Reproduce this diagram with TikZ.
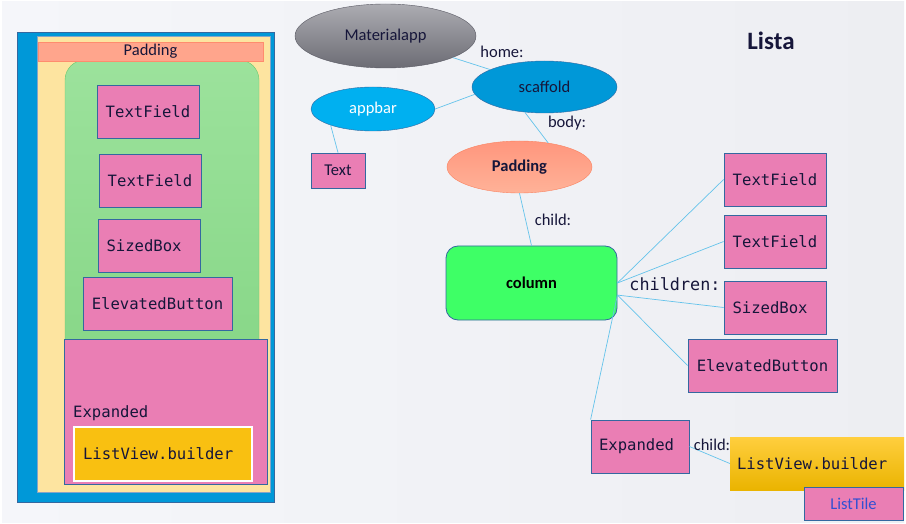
\documentclass[tikz,border=0pt]{standalone}
\usepackage{fontspec}
\setmainfont{Carlito}
\setmonofont{DejaVu Sans Mono}
\usetikzlibrary{shapes.geometric}
\definecolor{PageLeft}{RGB}{245,246,250}
\definecolor{PageRight}{RGB}{237,238,242}
\definecolor{BoxBlue}{RGB}{0,152,216}
\definecolor{PadYellow}{RGB}{253,228,160}
\definecolor{WidgetPink}{RGB}{234,126,180}
\definecolor{EdgeBlue}{RGB}{52,104,160}
\definecolor{LinkBlue}{RGB}{100,195,235}
\definecolor{InkNavy}{RGB}{22,22,58}
\definecolor{ListGold}{RGB}{249,192,17}
\definecolor{ColumnGreen}{RGB}{62,255,102}
\definecolor{PadSalmon}{RGB}{255,165,140}
\newcommand{\sansfs}{\fontsize{16.5}{18}\selectfont}
\newcommand{\monofs}{\fontsize{15.6}{18}\selectfont\ttfamily}

\begin{document}
\begin{tikzpicture}[x=1pt,y=-1pt,
  widget/.style={draw=EdgeBlue, line width=0.8pt, fill=WidgetPink, inner sep=0pt, font=\monofs, text=InkNavy},
  smallbox/.style={widget, minimum width=102, minimum height=53},
  bubble/.style={ellipse, inner sep=0pt, font=\sansfs, text=InkNavy},
  link/.style={draw=LinkBlue, line width=0.7pt},
  tag/.style={inner sep=0pt, font=\sansfs, text=InkNavy}]

  \useasboundingbox (0,0) rectangle (906,524);
  \fill[white] (0,0) rectangle (906,524);
  \shade[left color=PageLeft, right color=PageRight] (2,2) rectangle (904,522);

  % widget tree drawn as nested boxes
  \draw[fill=BoxBlue, draw=EdgeBlue, line width=0.8pt] (17,32) rectangle (274,502);
  \draw[fill=PadYellow, draw=EdgeBlue!60] (37,36) rectangle (270,492);
  \draw[top color={rgb,255:red,156;green,226;blue,156}, bottom color={rgb,255:red,134;green,214;blue,134},
        draw={rgb,255:red,110;green,200;blue,110}, rounded corners=20] (65,60) rectangle (259,380);
  \node[fill=PadSalmon, draw={rgb,255:red,255;green,140;blue,110}, minimum width=225, minimum height=19,
        inner sep=0pt, font=\sansfs, text=InkNavy] (l-pad) at (150.5,51.5) {Padding};

  \node[smallbox] (l-tf1) at (148,111.5) {TextField};
  \node[smallbox] (l-tf2) at (150,180.5) {TextField};
  \node[smallbox, text width=85, align=left] (l-sb) at (149,245.5) {SizedBox};
  \node[widget, minimum width=149, minimum height=53] (l-eb) at (157.5,303.5) {ElevatedButton};

  \node[widget, minimum width=203, minimum height=145] (l-exp) at (165.5,411.5) {};
  \node[font=\monofs, text=InkNavy, inner sep=0pt, anchor=west] (l-exp-tag) at (73,413) {Expanded};
  \node[fill=ListGold, draw=white, line width=2pt, minimum width=178, minimum height=54, text width=160,
        align=left, inner sep=0pt, font=\monofs, text=InkNavy] (l-lv) at (163,454) {ListView.builder};

  % title
  \node[font=\fontsize{25}{28}\selectfont\bfseries, text=InkNavy, inner sep=0pt] (title) at (771,41) {Lista};

  % tree
  \node[bubble, top color={rgb,255:red,172;green,172;blue,178}, bottom color={rgb,255:red,108;green,108;blue,116},
        draw={rgb,255:red,90;green,90;blue,100}, minimum width=181, minimum height=64] (mat) at (385.5,36) {Materialapp};
  \node[bubble, fill=BoxBlue, draw=EdgeBlue, minimum width=145, minimum height=52] (scaf) at (544.5,87) {scaffold};
  \node[bubble, fill={rgb,255:red,0;green,176;blue,240}, draw=EdgeBlue, text=white,
        minimum width=124, minimum height=44] (app) at (373,109) {appbar};
  \node[widget, font=\sansfs, minimum width=54, minimum height=35] (txt) at (338,170.5) {Text};
  \node[bubble, top color={rgb,255:red,255;green,150;blue,125}, bottom color={rgb,255:red,255;green,178;blue,152},
        draw={rgb,255:red,250;green,130;blue,95}, font=\sansfs\bfseries,
        minimum width=145, minimum height=52] (pad) at (519.5,167) {Padding};
  \node[fill=ColumnGreen, draw=EdgeBlue, line width=0.8pt, rounded corners=12, minimum width=171, minimum height=74,
        inner sep=0pt, font=\sansfs\bfseries, text=black] (col) at (531.5,283) {column};

  \node[smallbox] (r-tf1) at (775,179.5) {TextField};
  \node[smallbox] (r-tf2) at (775,241.5) {TextField};
  \node[smallbox, text width=85, align=left] (r-sb) at (775,307.5) {SizedBox};
  \node[widget, minimum width=149, minimum height=53] (r-eb) at (762.5,365.5) {ElevatedButton};

  \node[widget, minimum width=98, minimum height=53, text width=82, align=left] (exp) at (640,446.5) {Expanded};
  \node[top color={rgb,255:red,255;green,206;blue,62}, bottom color={rgb,255:red,234;green,180;blue,0},
        minimum width=174, minimum height=53, text width=160, align=left, inner sep=0pt,
        font=\monofs, text=InkNavy] (lv) at (817,463.5) {ListView.builder};
  \node[widget, font=\sansfs, text={rgb,255:red,50;green,80;blue,210}, minimum width=99, minimum height=33] (tile) at (853.5,503.5) {ListTile};

  % connectors
  \draw[link] (mat) -- (scaf);
  \draw[link] (app.east) -- (scaf.186);
  \draw[link] (app.201) -- (txt.north);
  \draw[link] (scaf.232) -- (pad.40);
  \draw[link] (pad.south) -- (col.north);
  \draw[link] (col.east) -- (r-tf1.west);
  \draw[link] (col.east) -- (r-tf2.west);
  \draw[link] (col.-8) -- (r-sb.west);
  \draw[link] (col.-8) -- (r-eb.west);
  \draw[link] (col.-8) -- (exp.north west);
  \draw[link] (exp.east) -- (lv.west);

  \node[tag] (home) at (502,52) {home:};
  \node[tag] (body) at (567,123) {body:};
  \node[tag] (child) at (553,220) {child:};
  \node[tag, font=\fontsize{16.8}{18}\selectfont\ttfamily] (kids) at (675,284) {children:};
  \node[tag] (child2) at (712,445) {child:};

\end{tikzpicture}
\end{document}
